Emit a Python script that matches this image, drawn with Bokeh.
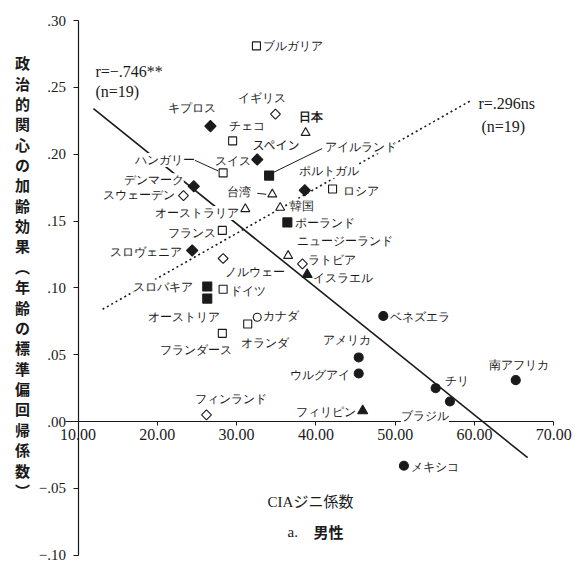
import math
from bokeh.plotting import figure
from bokeh.models import (ColumnDataSource, LabelSet, Label, CustomJSTickFormatter,
                          FixedTicker, Range1d)
from bokeh.embed import file_html
from bokeh.resources import INLINE

# ---------------- data ----------------
countries = ["ブルガリア", "イギリス", "キプロス", "日本", "チェコ", "スイス", "ハンガリー",
             "アイルランド", "デンマーク", "スウェーデン", "台湾", "ポルトガル", "ロシア",
             "オーストラリア", "韓国", "ポーランド", "フランス", "スロヴェニア", "ノルウェー",
             "ニュージーランド", "ラトビア", "イスラエル", "スロバキア", "ドイツ", "オーストリア",
             "カナダ", "オランダ", "フランダース", "アメリカ", "ウルグアイ", "フィンランド",
             "フィリピン", "ベネズエラ", "南アフリカ", "チリ", "ブラジル", "メキシコ"]
gini = [32.5, 34.9, 26.7, 38.7, 29.5, 32.6, 28.3,
        34.1, 24.6, 23.3, 34.5, 38.6, 42.1,
        31.1, 35.5, 36.4, 28.2, 24.4, 28.3,
        36.5, 38.3, 38.9, 26.3, 28.3, 26.3,
        32.6, 31.4, 28.2, 45.4, 45.4, 26.2,
        45.9, 48.5, 65.2, 55.1, 56.9, 51.1]
age_effect = [0.281, 0.230, 0.221, 0.216, 0.210, 0.196, 0.186,
              0.184, 0.176, 0.169, 0.170, 0.173, 0.174,
              0.159, 0.160, 0.149, 0.143, 0.128, 0.122,
              0.124, 0.118, 0.110, 0.101, 0.099, 0.092,
              0.078, 0.073, 0.066, 0.048, 0.036, 0.005,
              0.008, 0.079, 0.031, 0.025, 0.015, -0.033]
shape = ["square", "diamond", "diamond", "triangle", "square", "diamond", "square",
         "square", "diamond", "diamond", "triangle", "diamond", "square",
         "triangle", "triangle", "square", "square", "diamond", "diamond",
         "triangle", "diamond", "triangle", "square", "square", "square",
         "circle", "square", "square", "circle", "circle", "diamond",
         "triangle", "circle", "circle", "circle", "circle", "circle"]
filled = [False, False, True, False, False, True, False,
          True, True, False, False, True, False,
          False, False, True, False, True, False,
          False, False, True, True, False, True,
          False, False, False, True, True, False,
          True, True, True, True, True, True]
unmarked_labels = ["スペイン"]
unmarked_x = [32.0]
unmarked_y = [0.2073]

fit_neg_x = [11.95, 66.7]       # r = -.746**
fit_neg_y = [0.234, -0.027]
fit_pos_x = [13.1, 59.5]        # r = .296ns
fit_pos_y = [0.084, 0.240]
r_texts = ["r=−.746**", "r=.296ns"]
n_text = "(n=19)"

x_ticks = [10, 20, 30, 40, 50, 60, 70]
y_ticks = [-0.10, -0.05, 0.0, 0.05, 0.10, 0.15, 0.20, 0.25, 0.30]

x_title = "CIAジニ係数"
y_title = "政治的関心の加齢効果︵年齢の標準偏回帰係数︶"
panel_letter = "a."
panel_title = "男性"

# ---------------- layout / style (label offsets in px) ----------------
label_dx = [7, -37, -42, -7, -4, -42, -88,
            56, -70, -80, -45, -6, 10,
            -90, 10, 8, -54, -82, 2,
            9, 6, 6, -74, 7, -59,
            6, -7, -62, -36, -69, -11,
            -67, 7, -27, 9, -49, 7]
label_dy = [0, 16, 18, 16, 15, -1, 13,
            29, 6, 1, 2, 19, -2,
            -4, 2, -1, -3, -2, -14,
            15, 4, -3, 0, -2, -18,
            1, -19, -17, 17, -2, 16,
            -1, -1, 15, 7, -14, -1]

PX_X = 7.93    # px per x unit
PX_Y = 1337.0  # px per y unit

CJK = "Noto Sans CJK JP"
SERIF = "Liberation Serif"
INK = "#1a1a1a"

p = figure(width=575, height=569, output_backend="svg", toolbar_location=None,
           x_range=Range1d(0.227, 72.736), y_range=Range1d(-0.11062, 0.31496),
           min_border=0)
p.outline_line_color = None
p.grid.visible = False
p.background_fill_color = "white"
p.border_fill_color = "white"

# axes crossing at (10, 0)
p.xaxis.fixed_location = 0
p.yaxis.fixed_location = 10
p.xaxis.bounds = (8.4, 70)
p.yaxis.bounds = (-0.10, 0.30)
p.xaxis.ticker = FixedTicker(ticks=x_ticks)
p.yaxis.ticker = FixedTicker(ticks=y_ticks)
p.xaxis.formatter = CustomJSTickFormatter(code="return tick.toFixed(2);")
p.yaxis.formatter = CustomJSTickFormatter(
    code="return tick.toFixed(2).replace('0.', '.').replace('-', '−');")
for ax in (p.xaxis, p.yaxis):
    ax.axis_line_color = INK
    ax.axis_line_width = 1.2
    ax.major_tick_line_color = INK
    ax.minor_tick_line_color = None
    ax.major_tick_in = 0
    ax.major_label_text_font = SERIF
    ax.major_label_text_color = INK
p.xaxis.major_tick_out = 4
p.xaxis.major_label_standoff = 3
p.xaxis.major_label_text_font_size = "16px"
p.yaxis.major_tick_out = 5
p.yaxis.major_label_standoff = 7
p.yaxis.major_label_text_font_size = "15px"

# regression lines
p.line(fit_neg_x, fit_neg_y, line_color=INK, line_width=1.6)
p.line(fit_pos_x, fit_pos_y, line_color=INK, line_width=1.6, line_dash="2 3")

# leader lines (from marker to its label), offsets in px
leaders = {"ハンガリー": ((-5, 2), (-29, 13)),
           "アイルランド": ((4, 3), (53, 27)),
           "台湾": ((-6, 0), (-15, 1))}
lx0, ly0, lx1, ly1 = [], [], [], []
for name, ((a, b), (c, d)) in leaders.items():
    i = countries.index(name)
    lx0.append(gini[i] + a / PX_X); ly0.append(age_effect[i] + b / PX_Y)
    lx1.append(gini[i] + c / PX_X); ly1.append(age_effect[i] + d / PX_Y)
p.segment(lx0, ly0, lx1, ly1, line_color=INK, line_width=1)

# markers
mstyle = {"square": dict(marker="square", size=8, angle=0.0),
          "diamond": dict(marker="square", size=7, angle=math.pi / 4),
          "triangle": dict(marker="triangle", size=9, angle=0.0),
          "circle": dict(marker="circle", size=8, angle=0.0)}
for shp, st in mstyle.items():
    for fl in (True, False):
        idx = [i for i in range(len(countries)) if shape[i] == shp and filled[i] == fl]
        if not idx:
            continue
        src = ColumnDataSource(dict(x=[gini[i] for i in idx], y=[age_effect[i] for i in idx]))
        p.scatter("x", "y", source=src, marker=st["marker"], size=st["size"] + (1 if fl else 0),
                  angle=st["angle"], fill_color=INK if fl else "white",
                  line_color=INK, line_width=1.1)

# country labels
lab_src = ColumnDataSource(dict(
    x=gini, y=age_effect, name=countries, dx=label_dx, dy=label_dy,
    fstyle=["bold" if c == "日本" else "normal" for c in countries]))
p.add_layout(LabelSet(x="x", y="y", text="name", source=lab_src, x_offset="dx", y_offset="dy",
                      text_font=CJK, text_font_size="12px", text_color=INK,
                      text_font_style="fstyle",
                      text_align="left", text_baseline="middle",
                      background_fill_color="white"))
for t, x, y in zip(unmarked_labels, unmarked_x, unmarked_y):
    p.add_layout(Label(x=x, y=y, text=t, text_font=CJK, text_font_size="12px",
                       text_color=INK, text_align="left", text_baseline="middle",
                       background_fill_color="white"))

# correlation annotations
def ann(x, y, text, size="16px", font=SERIF, style="normal", align="left"):
    p.add_layout(Label(x=x, y=y, text=text, text_font=font, text_font_size=size,
                       text_font_style=style, text_color=INK, text_align=align,
                       text_baseline="middle"))

ann(12.2, 0.2619, r_texts[0])
ann(12.2, 0.2469, n_text)
ann(60.5, 0.2379, r_texts[1])
ann(60.88, 0.2207, n_text)

# axis titles
ann(39.32, -0.0605, x_title, size="15px", font=SERIF + ", " + CJK, align="center")
ann(36.42, -0.0822, panel_letter, size="15px")
ann(39.70, -0.0822, panel_title, size="15px", font=CJK, style="bold")
p.add_layout(Label(x=3.0, y=0.1085, text="\n".join(y_title), text_font=CJK,
                   text_font_size="15px", text_font_style="bold", text_color=INK,
                   text_align="center", text_baseline="middle", text_line_height=0.97))

open("out.html", "w").write(file_html(p, INLINE))
